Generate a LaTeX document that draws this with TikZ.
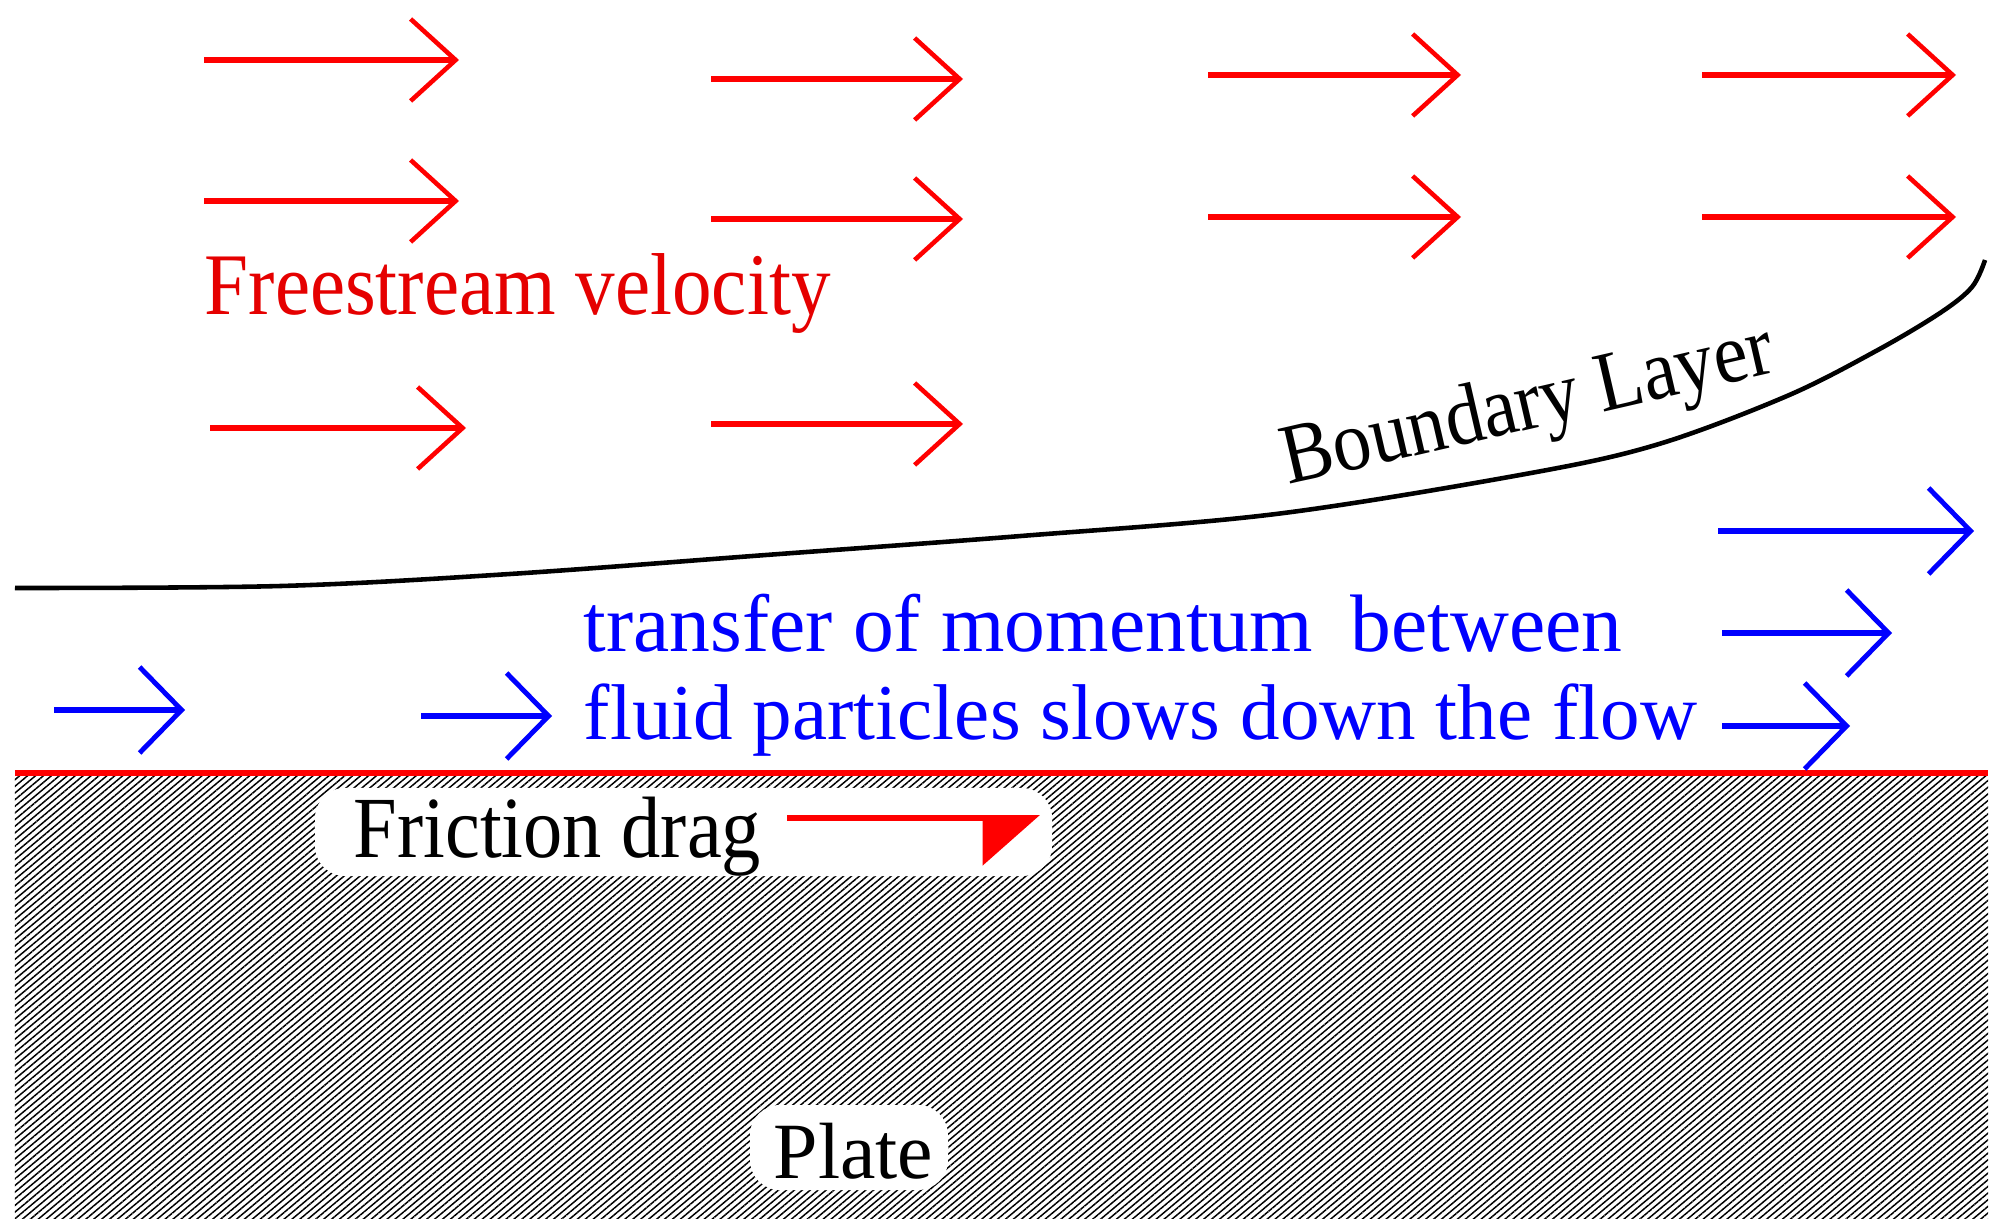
\documentclass[tikz,border=0pt]{standalone}
\usepackage{fontspec}
\setmainfont{Liberation Serif}
\newfontfamily\estreita[FakeStretch=0.9]{Liberation Serif}
\usepackage{tikz}
\usetikzlibrary{arrows.meta,patterns.meta}

\begin{document}
\begin{tikzpicture}[
	livre/.style={red, line width=1.7pt, -{Straight Barb[length=4.5mm, width=8.2mm, line width=1.3pt]}},
	camada/.style={blue, line width=1.7pt, -{Straight Barb[length=4.2mm, width=8.6mm, line width=1.4pt]}},
	arrasto/.style={red, line width=1.7pt, -{Triangle[harpoon, swap, length=5.4mm, width=9.4mm]}},
	caixa/.style={rectangle, rounded corners=0.3cm, fill=white, draw=none, inner sep=0pt},
	rotulo/.style={anchor=base west, inner sep=0pt},
]
\useasboundingbox (0,0) rectangle (20.01,12.18);
\fill[pattern={Lines[angle=40, distance=1.45pt, line width=0.42pt]}] (0.15,0) rectangle (19.88,4.42);
\draw[red, line width=1.7pt] (0.15,4.45) -- (19.88,4.45);
\node[caixa, minimum width=7.37cm, minimum height=0.88cm] (fundoatrito) at (6.835,3.86) {};
\node[caixa, minimum width=1.98cm, minimum height=0.85cm] (fundoplaca) at (8.49,0.705) {};

\draw[livre] (2.04,11.58) -- (4.59,11.58);
\draw[livre] (7.11,11.39) -- (9.63,11.39);
\draw[livre] (12.08,11.43) -- (14.61,11.43);
\draw[livre] (17.02,11.43) -- (19.56,11.43);
\draw[livre] (2.04,10.17) -- (4.59,10.17);
\draw[livre] (7.11,9.99) -- (9.63,9.99);
\draw[livre] (12.08,10.01) -- (14.61,10.01);
\draw[livre] (17.02,10.01) -- (19.56,10.01);
\draw[livre] (2.10,7.90) -- (4.66,7.90);
\draw[livre] (7.11,7.94) -- (9.63,7.94);

\draw[camada] (17.18,6.87) -- (19.74,6.87);
\draw[camada] (17.22,5.85) -- (18.92,5.85);
\draw[camada] (17.22,4.92) -- (18.50,4.92);
\draw[camada] (0.54,5.08) -- (1.85,5.08);
\draw[camada] (4.21,5.02) -- (5.52,5.02);

\draw[line width=1.3pt] plot[smooth, tension=0.55] coordinates {(0.15,6.30) (2.81,6.32) (5.10,6.44) (7.66,6.63) (10.21,6.82) (12.76,7.04) (15.31,7.45) (16.59,7.74) (17.87,8.22) (18.76,8.67) (19.40,9.05) (19.72,9.31) (19.85,9.58)};

\node[rotulo, red!90!black, font=\estreita\fontsize{25}{25}\selectfont] (velocidade) at (2.04,9.03) {Freestream velocity};
\node[rotulo, rotate=13, font=\estreita\fontsize{24.3}{24.3}\selectfont] (camadalimite) at (12.88,7.33) {Boundary Layer};
\node[rotulo, blue, font=\fontsize{23.2}{23.2}\selectfont] (transferencia) at (5.83,5.66) {transfer of momentum\hspace{0.38cm}between};
\node[rotulo, blue, font=\fontsize{22.5}{22.5}\selectfont] (particulas) at (5.83,4.78) {fluid particles slows down the flow};
\node[rotulo, font=\estreita\fontsize{24.8}{24.8}\selectfont] (atrito) at (3.53,3.60) {Friction drag};
\node[rotulo, font=\fontsize{22.7}{22.7}\selectfont] (placa) at (7.73,0.40) {Plate};

\draw[arrasto] (7.87,4.00) -- (10.40,4.00);
\end{tikzpicture}
\end{document}
